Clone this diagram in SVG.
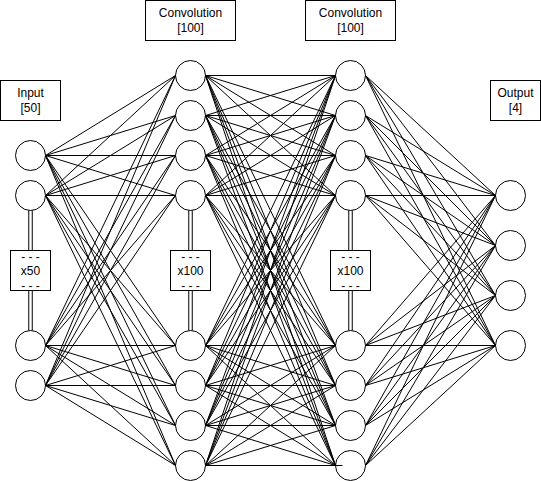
<svg xmlns="http://www.w3.org/2000/svg" width="541" height="481" viewBox="0 0 541 481">
  <style>
    .node { fill: #ffffff; stroke: #000000; stroke-width: 1; }
    .box { fill: #ffffff; stroke: #000000; stroke-width: 1; }
    .lbl { font-family: "Liberation Sans", Arial, Helvetica, sans-serif; font-size: 12px; fill: #000000; text-anchor: middle; }
    .edges { fill: none; stroke: #000000; stroke-width: 1; }
    .link { fill: none; stroke: #000000; stroke-width: 1; }
  </style>
  <rect x="0" y="0" width="541" height="481" fill="#ffffff"/>
  <g transform="translate(0.5,0.5)">
    <!-- layer titles -->
    <g id="title-input">
      <rect class="box" x="0" y="80" width="60" height="40"/>
      <text class="lbl" x="30" y="96.5">Input</text>
      <text class="lbl" x="30" y="111">[50]</text>
    </g>
    <g id="title-conv1">
      <rect class="box" x="145" y="0" width="90" height="40"/>
      <text class="lbl" x="190" y="16.5">Convolution</text>
      <text class="lbl" x="190" y="31">[100]</text>
    </g>
    <g id="title-conv2">
      <rect class="box" x="305" y="0" width="90" height="40"/>
      <text class="lbl" x="350" y="16.5">Convolution</text>
      <text class="lbl" x="350" y="31">[100]</text>
    </g>
    <g id="title-output">
      <rect class="box" x="490" y="80" width="50" height="40"/>
      <text class="lbl" x="515" y="96.5">Output</text>
      <text class="lbl" x="515" y="111">[4]</text>
    </g>

    <!-- input layer -->
    <g id="in-1"><circle class="node" cx="30" cy="155" r="15"/></g>
    <g id="in-2"><circle class="node" cx="30" cy="195" r="15"/></g>
    <g id="in-3"><circle class="node" cx="30" cy="345" r="15"/></g>
    <g id="in-4"><circle class="node" cx="30" cy="385" r="15"/></g>
    <g id="in-more">
      <path class="link" d="M28.25 210V250M31.75 210V250M28.25 290V330M31.75 290V330"/>
      <rect class="box" x="10" y="250" width="40" height="40"/>
      <text class="lbl" x="30" y="260">- - -</text>
      <text class="lbl" x="30" y="274.5">x50</text>
      <text class="lbl" x="30" y="289">- - -</text>
    </g>

    <!-- first convolution layer -->
    <g id="c1-1"><circle class="node" cx="190" cy="75" r="15"/></g>
    <g id="c1-2"><circle class="node" cx="190" cy="115" r="15"/></g>
    <g id="c1-3"><circle class="node" cx="190" cy="155" r="15"/></g>
    <g id="c1-4"><circle class="node" cx="190" cy="195" r="15"/></g>
    <g id="c1-5"><circle class="node" cx="190" cy="345" r="15"/></g>
    <g id="c1-6"><circle class="node" cx="190" cy="385" r="15"/></g>
    <g id="c1-7"><circle class="node" cx="190" cy="425" r="15"/></g>
    <g id="c1-8"><circle class="node" cx="190" cy="465" r="15"/></g>
    <g id="c1-more">
      <path class="link" d="M188.25 210V250M191.75 210V250M188.25 290V330M191.75 290V330"/>
      <rect class="box" x="170" y="250" width="40" height="40"/>
      <text class="lbl" x="190" y="260">- - -</text>
      <text class="lbl" x="190" y="274.5">x100</text>
      <text class="lbl" x="190" y="289">- - -</text>
    </g>

    <!-- second convolution layer -->
    <g id="c2-1"><circle class="node" cx="350" cy="75" r="15"/></g>
    <g id="c2-2"><circle class="node" cx="350" cy="115" r="15"/></g>
    <g id="c2-3"><circle class="node" cx="350" cy="155" r="15"/></g>
    <g id="c2-4"><circle class="node" cx="350" cy="195" r="15"/></g>
    <g id="c2-5"><circle class="node" cx="350" cy="345" r="15"/></g>
    <g id="c2-6"><circle class="node" cx="350" cy="385" r="15"/></g>
    <g id="c2-7"><circle class="node" cx="350" cy="425" r="15"/></g>
    <g id="c2-8"><circle class="node" cx="350" cy="465" r="15"/></g>
    <g id="c2-more">
      <path class="link" d="M348.25 210V250M351.75 210V250M348.25 290V330M351.75 290V330"/>
      <rect class="box" x="330" y="250" width="40" height="40"/>
      <text class="lbl" x="350" y="260">- - -</text>
      <text class="lbl" x="350" y="274.5">x100</text>
      <text class="lbl" x="350" y="289">- - -</text>
    </g>

    <!-- output layer -->
    <g id="out-1"><circle class="node" cx="510" cy="195" r="15"/></g>
    <g id="out-2"><circle class="node" cx="510" cy="245" r="15"/></g>
    <g id="out-3"><circle class="node" cx="510" cy="295" r="15"/></g>
    <g id="out-4"><circle class="node" cx="510" cy="345" r="15"/></g>

    <!-- fully connected edges -->
    <g id="connectors" class="edges">
      <path d="M45 155L175 75M45 155L175 115M45 155L175 155M45 155L175 195M45 155L175 345M45 155L175 385M45 155L175 425M45 155L175 465"/>
      <path d="M45 195L175 75M45 195L175 115M45 195L175 155M45 195L175 195M45 195L175 345M45 195L175 385M45 195L175 425M45 195L175 465"/>
      <path d="M45 345L175 75M45 345L175 115M45 345L175 155M45 345L175 195M45 345L175 345M45 345L175 385M45 345L175 425M45 345L175 465"/>
      <path d="M45 385L175 75M45 385L175 115M45 385L175 155M45 385L175 195M45 385L175 345M45 385L175 385M45 385L175 425M45 385L175 465"/>

      <path d="M205 75L335 75M205 75L335 115M205 75L335 155M205 75L335 195M205 75L335 345M205 75L335 385M205 75L335 425M205 75L335 465"/>
      <path d="M205 115L335 75M205 115L335 115M205 115L335 155M205 115L335 195M205 115L335 345M205 115L335 385M205 115L335 425M205 115L335 465"/>
      <path d="M205 155L335 75M205 155L335 115M205 155L335 155M205 155L335 195M205 155L335 345M205 155L335 385M205 155L335 425M205 155L335 465"/>
      <path d="M205 195L335 75M205 195L335 115M205 195L335 155M205 195L335 195M205 195L335 345M205 195L335 385M205 195L335 425M205 195L335 465"/>
      <path d="M205 345L335 75M205 345L335 115M205 345L335 155M205 345L335 195M205 345L335 345M205 345L335 385M205 345L335 425M205 345L335 465"/>
      <path d="M205 385L335 75M205 385L335 115M205 385L335 155M205 385L335 195M205 385L335 345M205 385L335 385M205 385L335 425M205 385L335 465"/>
      <path d="M205 425L335 75M205 425L335 115M205 425L335 155M205 425L335 195M205 425L335 345M205 425L335 385M205 425L335 425M205 425L335 465"/>
      <path d="M205 465L335 75M205 465L335 115M205 465L335 155M205 465L335 195M205 465L335 345M205 465L335 385M205 465L335 425M205 465L342 465"/>

      <path d="M365 75L495 195M365 75L495 245M365 75L495 295M365 75L495 345"/>
      <path d="M365 115L495 195M365 115L495 245M365 115L495 295M365 115L495 345"/>
      <path d="M365 155L495 195M365 155L495 245M365 155L495 295M365 155L495 345"/>
      <path d="M365 195L495 195M365 195L495 245M365 195L495 295M365 195L495 345"/>
      <path d="M365 345L495 195M365 345L495 245M365 345L495 295M365 345L495 345"/>
      <path d="M365 385L495 195M365 385L495 245M365 385L495 295M365 385L495 345"/>
      <path d="M365 425L495 195M365 425L495 245M365 425L495 295M365 425L495 345"/>
      <path d="M365 465L495 195M365 465L495 245M365 465L495 295M365 465L495 345"/>
    </g>
  </g>
</svg>
